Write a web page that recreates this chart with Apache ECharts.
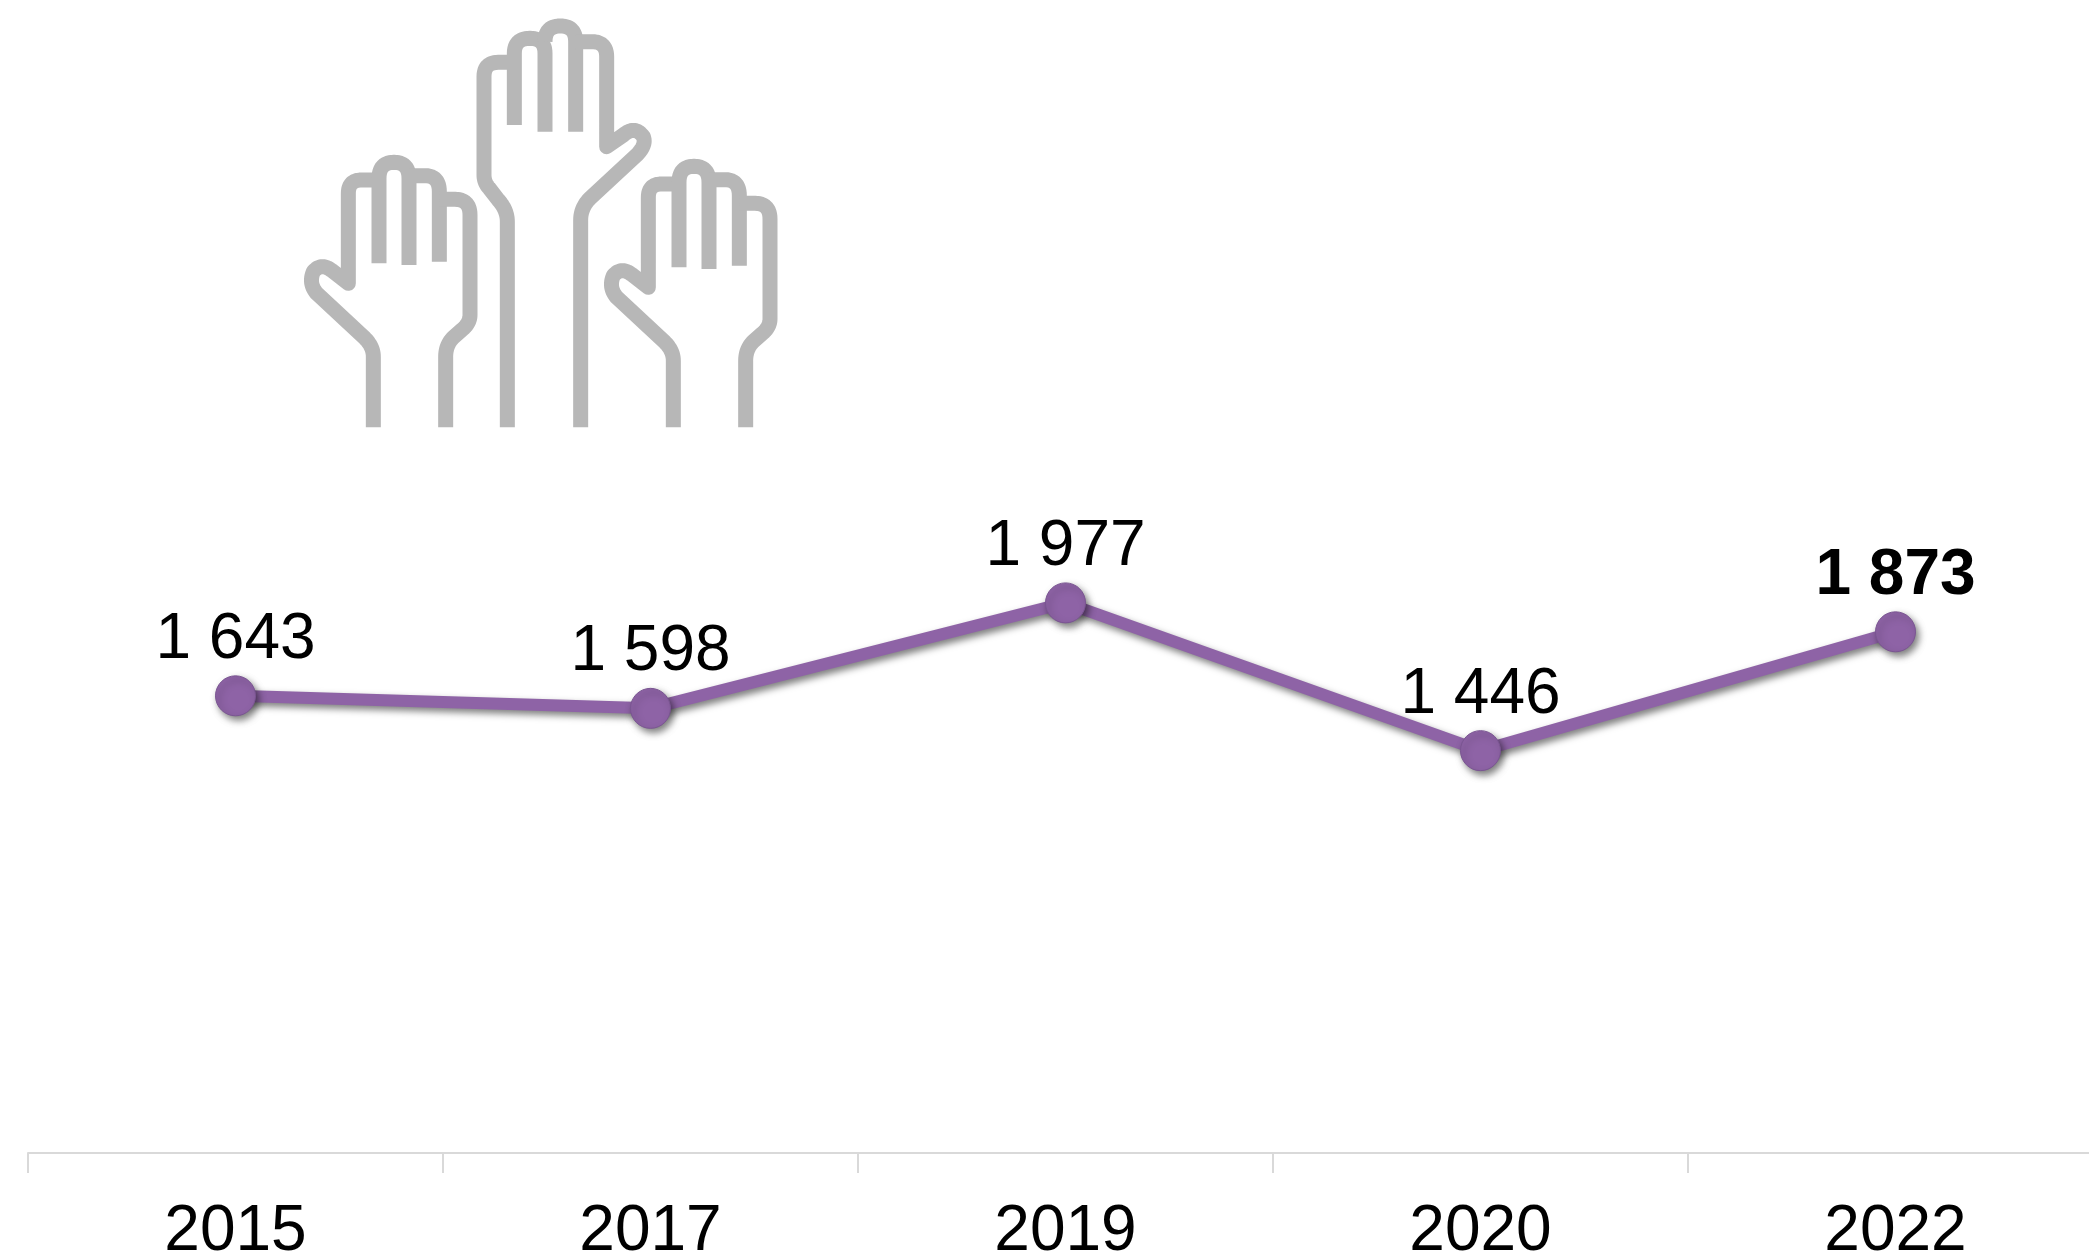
<!DOCTYPE html>
<html><head><meta charset="utf-8">
<style>html,body{margin:0;padding:0;background:#fff}#c{width:2089px;height:1255px}</style>
<script src="https://cdn.jsdelivr.net/npm/echarts@6/dist/echarts.min.js"></script>
</head><body><div id="c"></div>
<script>
const years = ['2015','2017','2019','2020','2022'];
const respondents = [1643,1598,1977,1446,1873];
const highlightYear = '2022';

const fmt = v => String(v).replace(/\B(?=(\d{3})+$)/g,' ');

function sideHand(dx,dy,bottom){
  const X=x=>x+dx, Y=y=>y+dy;
  return `M${X(280)} ${bottom}L${X(280)} ${Y(1070)}Q${X(280)} ${Y(1040)} ${X(255)} ${Y(1015)}L${X(110)} ${Y(880)}Q${X(85)} ${Y(850)} ${X(100)} ${Y(815)}Q${X(125)} ${Y(785)} ${X(160)} ${Y(815)}L${X(205)} ${Y(850)}L${X(205)} ${Y(580)}Q${X(205)} ${Y(540)} ${X(245)} ${Y(540)}L${X(297)} ${Y(540)}`
  +`M${X(297)} ${Y(790)}L${X(297)} ${Y(535)}Q${X(297)} ${Y(487)} ${X(342)} ${Y(487)}Q${X(387)} ${Y(487)} ${X(387)} ${Y(535)}L${X(387)} ${Y(795)}`
  +`M${X(387)} ${Y(527)}L${X(435)} ${Y(527)}Q${X(478)} ${Y(527)} ${X(478)} ${Y(575)}L${X(478)} ${Y(785)}`
  +`M${X(478)} ${Y(598)}L${X(525)} ${Y(598)}Q${X(570)} ${Y(598)} ${X(570)} ${Y(645)}L${X(570)} ${Y(945)}Q${X(570)} ${Y(970)} ${X(545)} ${Y(990)}L${X(520)} ${Y(1012)}Q${X(497)} ${Y(1035)} ${X(497)} ${Y(1070)}L${X(497)} ${bottom}`;
}
const middleHand = 'M682 1282L682 665Q682 630 655 600L628 565Q612 548 612 525L612 230Q612 187 655 187L703 187'
  +'M703 375L703 160Q703 115 750 115Q795 115 795 160L795 395'
  +'M795 125Q795 78 841 78Q887 78 887 125L887 395'
  +'M887 125L935 125Q980 125 980 170L980 440L1030 405Q1065 375 1090 410Q1100 435 1070 465L935 590Q902 620 902 660L902 1282';

// Flatten the outline (drawn in crop units) into page-space polylines.
function toPolylines(d){
  const out=[]; let cur=null, px=0, py=0;
  const page=(x,y)=>[280+x/3,y/3];
  d.match(/[MLQ][^MLQ]*/g).forEach(seg=>{
    const c=seg[0], n=seg.slice(1).trim().split(/\s+/).map(Number);
    if(c==='M'){cur=[page(n[0],n[1])];out.push(cur);px=n[0];py=n[1];}
    else if(c==='L'){cur.push(page(n[0],n[1]));px=n[0];py=n[1];}
    else{
      for(let i=1;i<=12;i++){const t=i/12,u=1-t;
        cur.push(page(u*u*px+2*u*t*n[0]+t*t*n[2],u*u*py+2*u*t*n[1]+t*t*n[3]));}
      px=n[2];py=n[3];
    }
  });
  return out;
}
const handPaths = [sideHand(0,0,1282),middleHand,sideHand(900,12,1282)];
const handLines = handPaths.flatMap(toPolylines);

const chart = echarts.init(document.getElementById('c'),null,{renderer:'canvas'});
chart.setOption({
  backgroundColor:'#ffffff',
  animation:false,
  grid:{left:28,width:2075,top:40,height:1113,containLabel:false,outerBoundsMode:'none'},
  xAxis:{type:'category',data:years,
    axisLine:{show:true,lineStyle:{color:'#d9d9d9',width:2}},
    axisTick:{show:true,length:20,lineStyle:{color:'#d9d9d9',width:2}},
    axisLabel:{color:'#000',fontFamily:'Liberation Sans',fontSize:64,margin:47,hideOverlap:false,interval:0}},
  yAxis:{type:'value',min:0,max:4000,show:false,splitLine:{show:false}},
  graphic:handLines.map(pts=>({type:'polyline',silent:true,
    shape:{points:pts},
    style:{stroke:'#b7b7b7',fill:null,lineWidth:15,lineCap:'butt',lineJoin:'round'}})),
  series:[{type:'line',data:respondents.map((v,i)=>({value:v,
      label:{fontWeight:years[i]===highlightYear?'bold':'normal'}})),
    symbol:'circle',symbolSize:40,showAllSymbol:true,
    lineStyle:{color:'#8e63a6',width:12,shadowColor:'rgba(0,0,0,0.5)',shadowBlur:7,shadowOffsetX:3,shadowOffsetY:4},
    itemStyle:{color:'#8e63a6',borderColor:'#7a5592',borderWidth:1,shadowColor:'rgba(0,0,0,0.5)',shadowBlur:7,shadowOffsetX:3,shadowOffsetY:4},
    label:{show:true,position:'top',distance:3,color:'#000',fontFamily:'Liberation Sans',fontSize:64,
      formatter:p=>fmt(p.value)},
    emphasis:{disabled:true}}]
});
</script></body></html>
